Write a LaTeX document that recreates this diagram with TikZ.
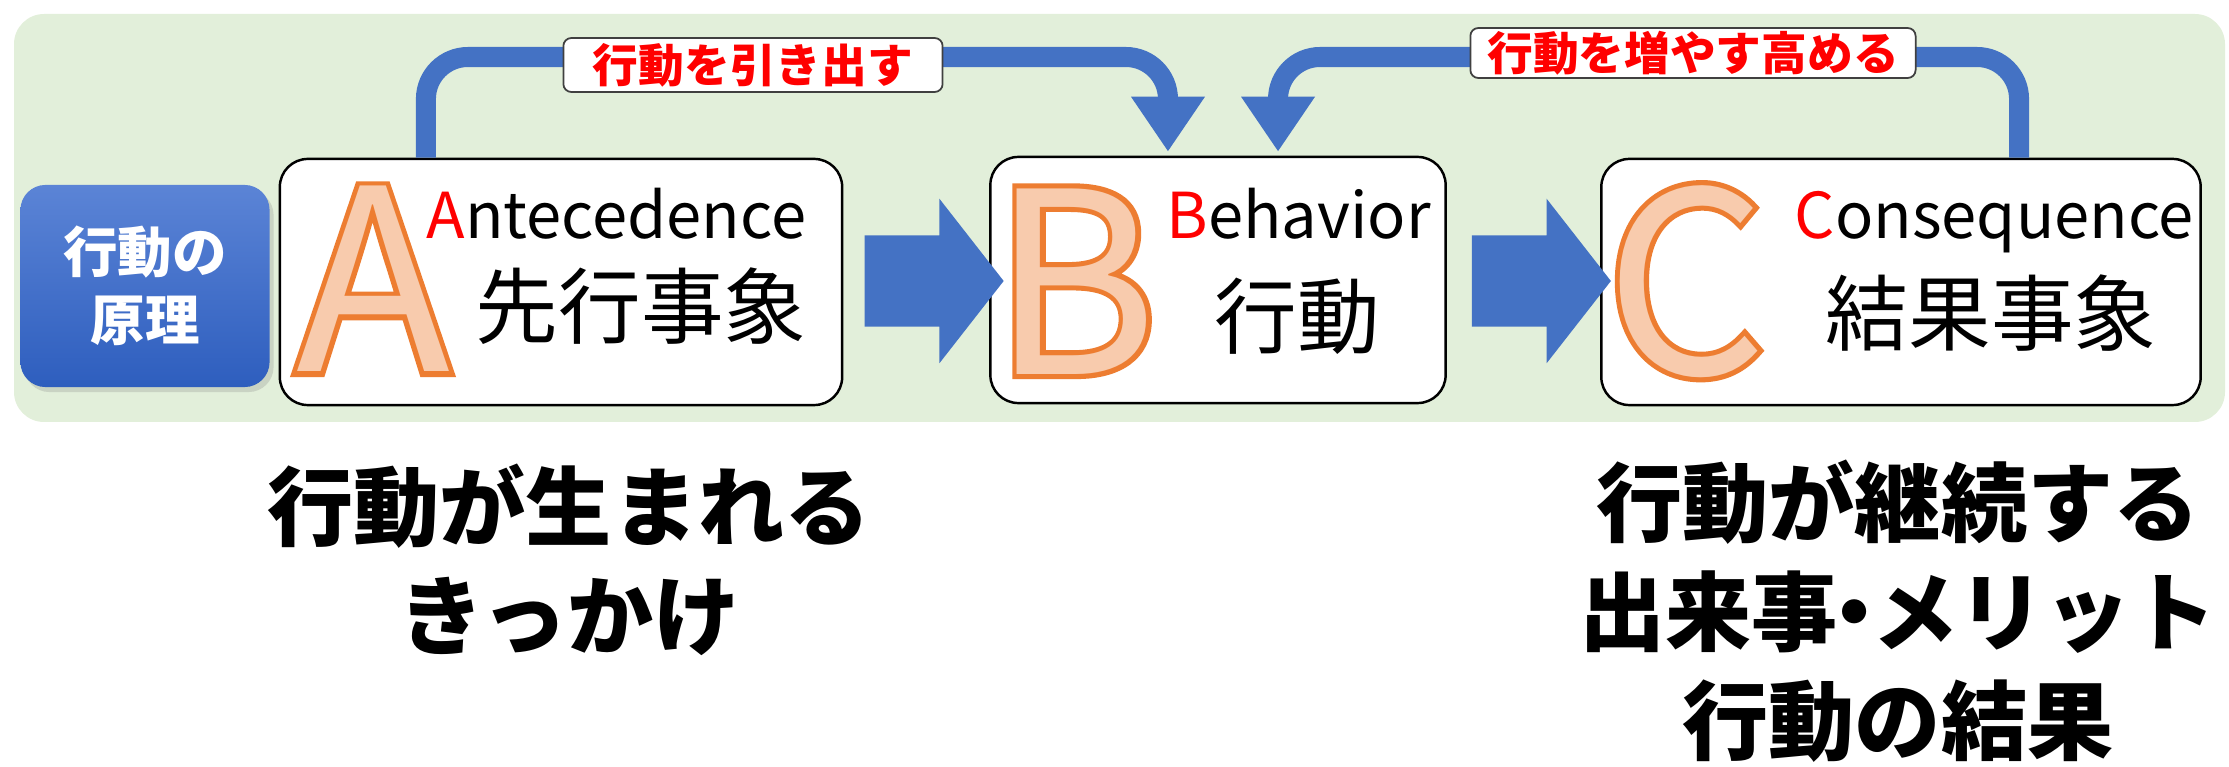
\documentclass[tikz,border=0pt]{standalone}
\usepackage{fontspec}
\setmainfont{Noto Sans CJK JP}
\newfontfamily\letterfont{Noto Sans CJK JP}
\newfontfamily\letteredge[FakeBold=4]{Noto Sans CJK JP}
\usetikzlibrary{positioning,calc,arrows.meta,shapes.arrows,shadows}

\definecolor{bggreen}{HTML}{E2EFDA}
\definecolor{arrowblue}{HTML}{4472C4}
\definecolor{lettfill}{HTML}{F8CBAD}
\definecolor{lettedge}{HTML}{ED7D31}
\definecolor{topblue}{HTML}{5B84D6}
\definecolor{botblue}{HTML}{2E5EBE}

\tikzset{
  abcbox/.style={draw=black, line width=0.7pt, fill=white, rounded corners=0.28cm, minimum height=2.46cm, inner sep=0},
  principle/.style={rounded corners=0.25cm, top color=topblue, bottom color=botblue, draw=none, minimum width=2.49cm, minimum height=2.02cm, text=white, align=center, font=\bfseries\fontsize{15.5}{19.5}\selectfont, drop shadow={opacity=0.25, shadow xshift=0.04cm, shadow yshift=-0.05cm}},
  bigarrow/.style={single arrow, fill=arrowblue, draw=none, inner sep=0, minimum height=1.39cm, minimum width=1.63cm, single arrow head extend=0.365cm, single arrow tip angle=104},
  feedback/.style={draw=arrowblue, line width=0.2cm, rounded corners=0.42cm, -{Triangle[width=0.7cm,length=0.55cm]}, shorten >=0.04cm},
  tag/.style={draw=black!75, line width=0.5pt, fill=white, rounded corners=0.08cm, text=red, inner sep=0, font=\bfseries\fontsize{13}{13}\selectfont},
  engword/.style={inner sep=0, font=\fontsize{18}{18}\selectfont},
  jpword/.style={inner sep=0, font=\fontsize{23.5}{23.5}\selectfont},
  edgeletter/.style={inner sep=0, anchor=base, text=lettedge, font=\letteredge\fontsize{72}{72}\selectfont},
  fillletter/.style={inner sep=0, anchor=base, text=lettfill, font=\letterfont\fontsize{72}{72}\selectfont},
  lower/.style={inner sep=0, align=center, font=\bfseries\fontsize{24.5}{31}\selectfont}
}

\begin{document}
\begin{tikzpicture}[x=0.01cm, y=-0.01cm]
\useasboundingbox (0,0) rectangle (2229,767);
\fill[bggreen, rounded corners=0.3cm] (14,14) rectangle (2225,422);

\node[principle] (rule) at (145,286) {行動の\\原理};

\node[abcbox, minimum width=5.62cm] (A) at (561,282) {};
\node[abcbox, minimum width=4.55cm] (B) at (1218,280) {};
\node[abcbox, minimum width=5.99cm] (C) at (1901,282) {};

\node[bigarrow] (AtoB) at ($(A.east)!0.5!(B.west)$) {\rule{0pt}{0.9cm}};
\node[bigarrow] (BtoC) at ($(B.east)!0.5!(C.west)$) {\rule{0pt}{0.9cm}};

\node[edgeletter] (Aedge) at (373,372) {A};
\node[fillletter] (Alet) at (373,372) {A};
\node[edgeletter] (Bedge) at (1075,374) {B};
\node[fillletter] (Blet) at (1075,374) {B};
\node[edgeletter] (Cedge) at (1686,374) {C};
\node[fillletter] (Clet) at (1686,374) {C};

\node[engword, anchor=base east] (antword) at (807,239) {\textcolor{red}{A}ntecedence};
\node[jpword] (antjp) at (641,306) {先行事象};
\node[engword, anchor=base west] (behword) at (1166,239) {\textcolor{red}{B}ehavior};
\node[jpword] (behjp) at (1297,316) {行動};
\node[engword, anchor=base west] (conword) at (1794,239) {\textcolor{red}{C}onsequence};
\node[jpword] (conjp) at (1991,313) {結果事象};

\coordinate (top1) at (800,57);
\coordinate (top2) at (1700,57);
\draw[feedback] ([xshift=-1.35cm]A.north) |- (top1) -| ([xshift=-0.5cm]B.north);
\draw[feedback] ([xshift=1.18cm]C.north) |- (top2) -| ([xshift=0.6cm]B.north);

\node[tag, minimum width=3.79cm, minimum height=0.54cm] (lab1) at (753,65) {行動を引き出す};
\node[tag, minimum width=4.45cm, minimum height=0.5cm] (lab2) at (1693,53) {行動を増やす高める};

\node[lower] (cue) at (569,560) {行動が生まれる\\きっかけ};
\node[lower] (result) at (1898,611) {行動が継続する\\出来事{\kern-0.3em・\kern-0.3em}メリット\\行動の結果};
\end{tikzpicture}
\end{document}
